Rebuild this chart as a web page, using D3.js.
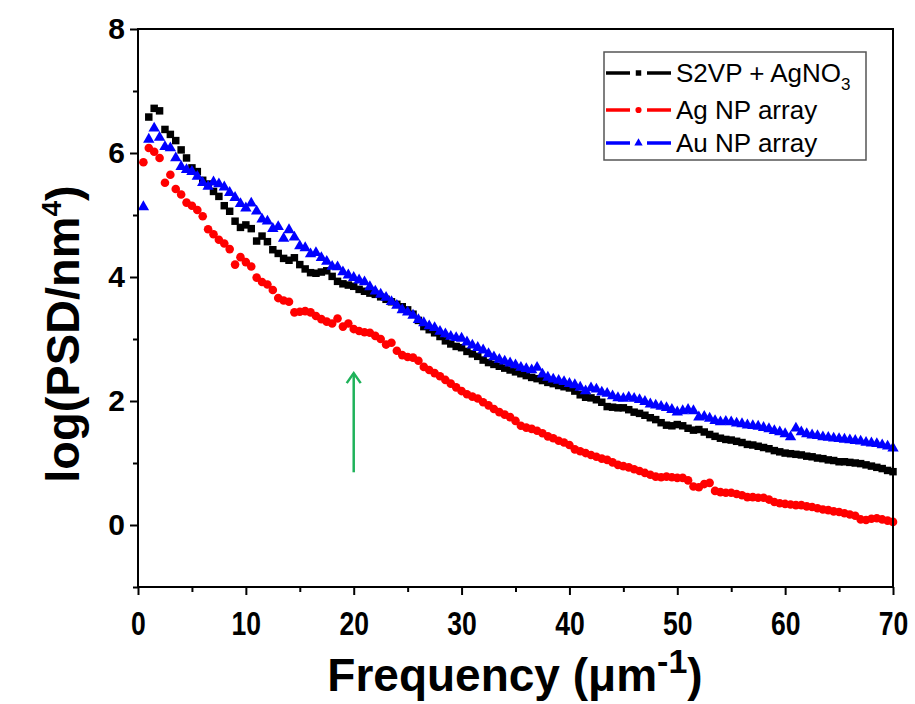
<!DOCTYPE html>
<html>
<head>
<meta charset="utf-8">
<script src="https://cdn.jsdelivr.net/npm/d3@7/dist/d3.min.js"></script>
<style>
  body { margin: 0; background: #fff; }
  text { font-family: "Liberation Sans", Arial, sans-serif; }
</style>
</head>
<body>
<svg id="chart" width="915" height="704"></svg>
<script>
// spatial frequency (um^-1)
var freq = [0.5,1.0,1.5,2.0,2.5,3.0,3.5,4.0,4.5,5.0,5.5,6.0,6.5,7.0,7.5,8.0,8.5,9.0,9.5,10.0,
  10.5,11.0,11.5,12.0,12.5,13.0,13.5,14.0,14.5,15.0,15.5,16.0,16.5,17.0,17.5,18.0,18.5,19.0,19.5,20.0,
  20.5,21.0,21.5,22.0,22.5,23.0,23.5,24.0,24.5,25.0,25.5,26.0,26.5,27.0,27.5,28.0,28.5,29.0,29.5,30.0,
  30.5,31.0,31.5,32.0,32.5,33.0,33.5,34.0,34.5,35.0,35.5,36.0,36.5,37.0,37.5,38.0,38.5,39.0,39.5,40.0,
  40.5,41.0,41.5,42.0,42.5,43.0,43.5,44.0,44.5,45.0,45.5,46.0,46.5,47.0,47.5,48.0,48.5,49.0,49.5,50.0,
  50.5,51.0,51.5,52.0,52.5,53.0,53.5,54.0,54.5,55.0,55.5,56.0,56.5,57.0,57.5,58.0,58.5,59.0,59.5,60.0,
  60.5,61.0,61.5,62.0,62.5,63.0,63.5,64.0,64.5,65.0,65.5,66.0,66.5,67.0,67.5,68.0,68.5,69.0,69.5,70.0];

// log(PSD) values
var s2vp = [null,6.58,6.72,6.68,6.38,6.30,6.20,6.05,5.92,5.76,5.70,5.56,5.50,5.38,5.30,5.15,5.06,4.90,4.80,4.84,
  4.78,4.58,4.66,4.57,4.44,4.38,4.30,4.27,4.31,4.20,4.13,4.07,4.06,4.08,4.10,4.01,3.93,3.89,3.87,3.85,
  3.80,3.77,3.74,3.72,3.68,3.64,3.60,3.56,3.52,3.47,3.40,3.30,3.20,3.15,3.10,3.04,2.97,2.92,2.88,2.86,
  2.80,2.76,2.72,2.66,2.62,2.59,2.56,2.53,2.50,2.47,2.44,2.41,2.38,2.36,2.33,2.30,2.28,2.25,2.23,2.21,
  2.16,2.10,2.06,2.05,2.02,1.98,1.91,1.90,1.89,1.89,1.86,1.82,1.80,1.77,1.73,1.70,1.65,1.61,1.60,1.62,
  1.60,1.56,1.53,1.54,1.50,1.46,1.43,1.40,1.38,1.37,1.35,1.33,1.30,1.29,1.27,1.25,1.23,1.20,1.18,1.16,
  1.15,1.14,1.13,1.11,1.10,1.08,1.07,1.05,1.04,1.02,1.02,1.01,1.00,0.99,0.97,0.95,0.93,0.91,0.88,0.86];

var agArray = [5.85,6.08,6.02,5.92,5.52,5.65,5.42,5.33,5.20,5.15,5.08,4.98,4.77,4.69,4.60,4.54,4.45,4.20,4.32,4.24,
  4.17,3.99,3.92,3.88,3.79,3.66,3.62,3.60,3.43,3.44,3.45,3.43,3.37,3.32,3.28,3.25,3.33,3.20,3.25,3.16,
  3.13,3.11,3.10,3.05,3.00,2.91,2.94,2.81,2.74,2.71,2.70,2.65,2.55,2.50,2.45,2.40,2.34,2.28,2.22,2.16,
  2.11,2.07,2.04,1.98,1.93,1.87,1.82,1.78,1.74,1.68,1.60,1.57,1.55,1.52,1.48,1.43,1.40,1.36,1.33,1.29,
  1.22,1.19,1.16,1.13,1.10,1.07,1.05,1.01,0.97,0.95,0.93,0.90,0.87,0.84,0.81,0.78,0.77,0.78,0.77,0.76,
  0.76,0.72,0.62,0.61,0.66,0.68,0.55,0.53,0.52,0.52,0.50,0.48,0.45,0.45,0.44,0.44,0.41,0.37,0.35,0.34,
  0.33,0.32,0.32,0.30,0.29,0.27,0.25,0.24,0.22,0.21,0.19,0.17,0.15,0.09,0.08,0.10,0.11,0.09,0.07,0.05];

var auArray = [5.13,6.22,6.40,6.25,6.10,6.08,5.92,5.78,5.73,5.70,5.62,5.52,5.46,5.53,5.50,5.45,5.36,5.28,5.18,5.11,
  5.19,5.06,4.93,4.90,4.78,4.81,4.62,4.76,4.64,4.50,4.47,4.37,4.39,4.31,4.25,4.17,4.16,4.08,4.03,3.99,
  3.95,3.92,3.84,3.77,3.72,3.67,3.60,3.54,3.47,3.43,3.38,3.31,3.26,3.21,3.18,3.12,3.08,3.04,3.02,3.01,
  2.95,2.90,2.86,2.82,2.76,2.71,2.67,2.64,2.61,2.58,2.54,2.52,2.50,2.54,2.43,2.38,2.35,2.33,2.31,2.28,
  2.26,2.22,2.16,2.21,2.19,2.14,2.12,2.08,2.05,2.04,2.06,2.04,2.02,1.99,1.95,1.93,1.91,1.89,1.86,1.82,
  1.84,1.86,1.84,1.74,1.75,1.72,1.68,1.66,1.67,1.66,1.64,1.63,1.61,1.60,1.59,1.57,1.55,1.52,1.50,1.47,
  1.42,1.56,1.50,1.47,1.45,1.44,1.42,1.41,1.40,1.39,1.38,1.37,1.36,1.35,1.33,1.32,1.31,1.29,1.27,1.24];

var seriesNames = ["S2VP + AgNO3", "Ag NP array", "Au NP array"];
var seriesColors = ["#000000", "#ff0000", "#0000ff"];
var xTicks = [0, 10, 20, 30, 40, 50, 60, 70];
var yTicks = [0, 2, 4, 6, 8];
var arrowAt = 20, arrowFrom = 0.85, arrowTo = 2.45;

var svg = d3.select("#chart");

var x = d3.scaleLinear().domain([0, 70]).range([138, 893]);
var y = d3.scaleLinear().domain([-1, 8]).range([587, 29]);

var series = [
  { name: seriesNames[0], color: seriesColors[0], shape: d3.symbolSquare, size: 56, values: s2vp },
  { name: seriesNames[1], color: seriesColors[1], shape: d3.symbolCircle, size: 58, values: agArray },
  { name: seriesNames[2], color: seriesColors[2], shape: d3.symbolTriangle, size: 56, values: auArray }
];

// markers
series.forEach(function(s) {
  var pts = freq.map(function(f, i) { return { f: f, v: s.values[i] }; })
    .filter(function(d) { return d.v != null; });
  svg.append("g").selectAll("path")
    .data(pts)
    .enter()
    .append("path")
    .attr("d", d3.symbol().type(s.shape).size(s.size))
    .attr("transform", function(d) { return "translate(" + x(d.f) + "," + y(d.v) + ")"; })
    .attr("fill", s.color);
});

// frame
svg.append("rect")
  .attr("x", x(0)).attr("y", y(8))
  .attr("width", x(70) - x(0)).attr("height", y(-1) - y(8))
  .attr("fill", "none").attr("stroke", "#000").attr("stroke-width", 2);

// x axis
var xAxis = svg.append("g")
  .attr("transform", "translate(0," + y(-1) + ")")
  .call(d3.axisBottom(x).tickValues(d3.range(0, 71, 5)).tickSize(8).tickFormat(function(d) {
    return xTicks.indexOf(d) >= 0 ? d : "";
  }));
xAxis.select(".domain").remove();
xAxis.selectAll(".tick line").attr("stroke-width", 2)
  .attr("y2", function(d) { return d % 10 === 0 ? 8 : 5; });
// tick labels are drawn narrow and tall in the original
xAxis.selectAll(".tick text")
  .attr("y", 24)
  .attr("transform", "scale(0.78,1)")
  .style("font-size", "34px").style("font-weight", "bold").attr("fill", "#000");

// y axis
var yAxis = svg.append("g")
  .attr("transform", "translate(" + x(0) + ",0)")
  .call(d3.axisLeft(y).tickValues(d3.range(-1, 9, 1)).tickSize(8).tickFormat(function(d) {
    return yTicks.indexOf(d) >= 0 ? d : "";
  }));
yAxis.select(".domain").remove();
yAxis.selectAll(".tick line").attr("stroke-width", 2)
  .attr("x2", function(d) { return d % 2 === 0 ? -8 : -5; });
yAxis.selectAll(".tick text")
  .attr("x", -13)
  .style("font-size", "30px").style("font-weight", "bold").attr("fill", "#000");

// axis titles
var xt = svg.append("text")
  .attr("x", 515).attr("y", 691)
  .attr("text-anchor", "middle")
  .style("font-size", "46px").style("font-weight", "bold");
xt.append("tspan").text("Frequency (\u03bcm");
xt.append("tspan").attr("dy", -18).style("font-size", "34px").text("-1");
xt.append("tspan").attr("dy", 18).text(")");

var yt = svg.append("text")
  .attr("transform", "translate(79,334) rotate(-90)")
  .attr("text-anchor", "middle")
  .style("font-size", "47px").style("font-weight", "bold");
yt.append("tspan").text("log(PSD/nm");
yt.append("tspan").attr("dy", -18).style("font-size", "28px").text("4");
yt.append("tspan").attr("dy", 18).text(")");

// legend
var lg = svg.append("g");
lg.append("rect")
  .attr("x", 604).attr("y", 52).attr("width", 262).attr("height", 108)
  .attr("fill", "#fff").attr("stroke", "#555").attr("stroke-width", 1.5);
var rowY = [73, 110, 143];
series.forEach(function(s, i) {
  var g = lg.append("g").attr("transform", "translate(0," + rowY[i] + ")");
  g.append("line").attr("x1", 606).attr("x2", 630).attr("y1", 0).attr("y2", 0)
    .attr("stroke", s.color).attr("stroke-width", 3.5);
  g.append("line").attr("x1", 647).attr("x2", 671).attr("y1", 0).attr("y2", 0)
    .attr("stroke", s.color).attr("stroke-width", 3.5);
  g.append("path").attr("d", d3.symbol().type(s.shape).size(30))
    .attr("transform", "translate(638.5,0)").attr("fill", s.color);
  var t = g.append("text").attr("x", 676).attr("y", 9).style("font-size", "26px");
  if (i === 0) {
    t.append("tspan").text("S2VP + AgNO");
    t.append("tspan").attr("dy", 8).style("font-size", "17px").text("3");
  } else {
    t.text(s.name);
  }
});

// green arrow
svg.append("line")
  .attr("x1", x(arrowAt)).attr("x2", x(arrowAt))
  .attr("y1", y(arrowFrom)).attr("y2", y(arrowTo))
  .attr("stroke", "#1fb25a").attr("stroke-width", 2.5);
svg.append("path")
  .attr("d", "M" + (x(arrowAt) - 7) + "," + (y(arrowTo) + 10) + "L" + x(arrowAt) + "," + y(arrowTo) +
    "L" + (x(arrowAt) + 7) + "," + (y(arrowTo) + 10))
  .attr("fill", "none").attr("stroke", "#1fb25a").attr("stroke-width", 2.5);
</script>
</body>
</html>
